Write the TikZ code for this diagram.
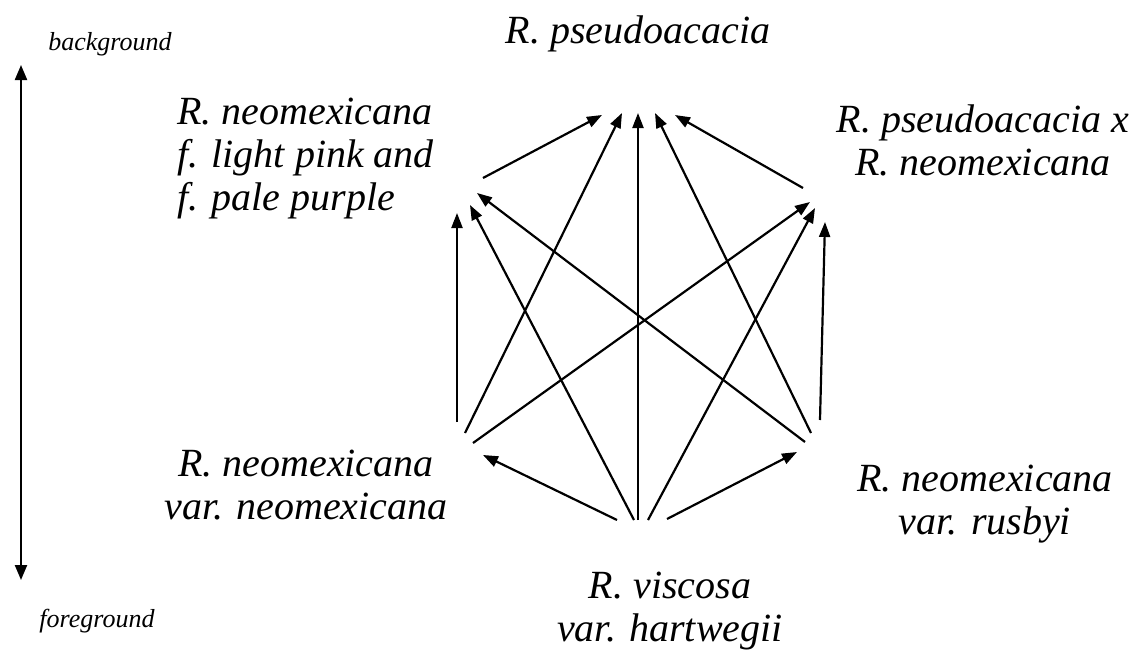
\documentclass[tikz,border=0pt]{standalone}
\usepackage{fontspec}
\setmainfont{Liberation Serif}
\usetikzlibrary{arrows.meta}
\begin{document}
\begin{tikzpicture}[x=1pt,y=-1pt,
  taxon/.style={font=\fontsize{40}{43}\selectfont\itshape, inner sep=0pt},
  axislabel/.style={font=\fontsize{26}{30}\selectfont\itshape, inner sep=0pt, anchor=base},
  link/.style={line width=2.2pt, -{Triangle[length=15pt,width=11pt]}},
  axis/.style={line width=2.2pt, {Triangle[length=15pt,width=12pt]}-{Triangle[length=15pt,width=12pt]}}]
\useasboundingbox (0,0) rectangle (1136,653);

% taxa
\node[taxon, anchor=base] (top) at (638,43) {R. pseudoacacia};
\node[taxon, align=left, anchor=north west] (ul) at (177,98) {R. neomexicana\\f. light pink and\\f. pale purple};
\node[taxon, align=center, anchor=north] (ur) at (983,105) {R. pseudoacacia x\\R. neomexicana};
\node[taxon, align=center, anchor=north] (ll) at (306,450) {R. neomexicana\\var. neomexicana};
\node[taxon, align=center, anchor=north] (lr) at (985,465) {R. neomexicana\\var. rusbyi};
\node[taxon, align=center, anchor=north] (bot) at (670,572) {R. viscosa\\var. hartwegii};

% depth axis
\node[axislabel] (bg) at (110,50) {background};
\node[axislabel] (fg) at (97,627) {foreground};
\coordinate (axis-top) at (21,65);
\coordinate (axis-bot) at (21,580);
\draw[axis] (axis-bot) -- (axis-top);

% arrow ends around each taxon
\coordinate (top-ul) at (602,115);
\coordinate (top-ll) at (622,113);
\coordinate (top-b)  at (638,113);
\coordinate (top-lr) at (655,113);
\coordinate (top-ur) at (675,115);

\coordinate (ul-out) at (483,178);
\coordinate (ul-ll) at (457,213);
\coordinate (ul-b)  at (470,205);
\coordinate (ul-lr) at (477,193);

\coordinate (ur-out) at (803,188);
\coordinate (ur-ll) at (810,202);
\coordinate (ur-b)  at (815,208);
\coordinate (ur-lr) at (825,222);

\coordinate (ll-ul) at (457,422);
\coordinate (ll-t)  at (465,433);
\coordinate (ll-ur) at (473,443);
\coordinate (ll-in) at (483,455);

\coordinate (lr-ur) at (820,420);
\coordinate (lr-t)  at (811,433);
\coordinate (lr-ul) at (805,442);
\coordinate (lr-in) at (797,452);

\coordinate (b-ll) at (617,520);
\coordinate (b-ul) at (634,520);
\coordinate (b-t)  at (638,520);
\coordinate (b-ur) at (648,520);
\coordinate (b-lr) at (667,519);

% links towards the background
\draw[link] (ul-out) -- (top-ul);
\draw[link] (ll-t) -- (top-ll);
\draw[link] (b-t) -- (top-b);
\draw[link] (lr-t) -- (top-lr);
\draw[link] (ur-out) -- (top-ur);

\draw[link] (ll-ul) -- (ul-ll);
\draw[link] (b-ul) -- (ul-b);
\draw[link] (lr-ul) -- (ul-lr);

\draw[link] (ll-ur) -- (ur-ll);
\draw[link] (b-ur) -- (ur-b);
\draw[link] (lr-ur) -- (ur-lr);

\draw[link] (b-ll) -- (ll-in);
\draw[link] (b-lr) -- (lr-in);
\end{tikzpicture}
\end{document}
